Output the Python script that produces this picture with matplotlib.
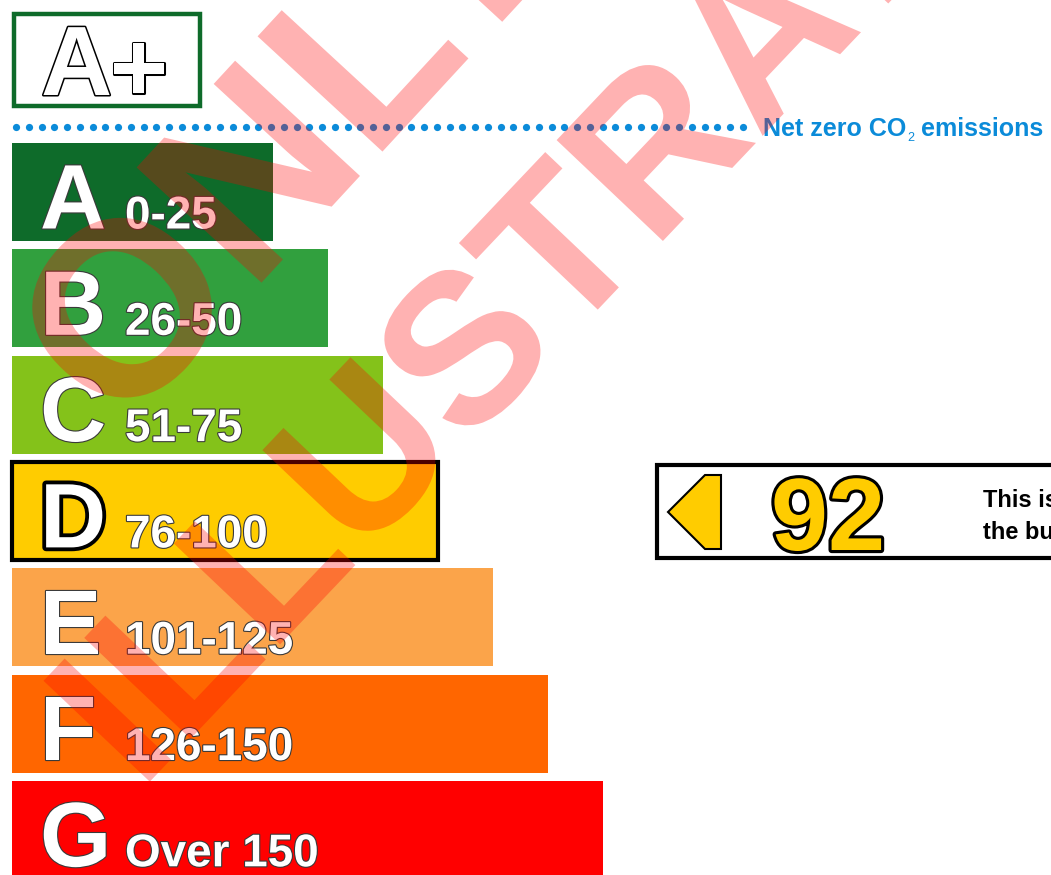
import numpy as np
import matplotlib
matplotlib.use("Agg")
import matplotlib.pyplot as plt
import matplotlib.patheffects as pe
from matplotlib.patches import Rectangle, Polygon, PathPatch
from matplotlib.textpath import TextPath
from matplotlib.font_manager import FontProperties
from matplotlib.transforms import Affine2D

FONT = "Liberation Sans"

#%% data
bands = ["A", "B", "C", "D", "E", "F", "G"]
band_ranges = ["0-25", "26-50", "51-75", "76-100", "101-125", "126-150", "Over 150"]
band_length = [261, 316, 371, 426, 481, 536, 591]
band_colors = ["#0e6b2a", "#31a03e", "#84c21a", "#ffcc00", "#fba44a", "#ff6600", "#ff0000"]
current_value = 92
current_band = "D"
top_label = ["A", "+"]
net_zero_parts = ["Net zero CO", "2", " emissions"]
info_lines = ["This is the net energy use of", "the building"]
watermark_lines = ["ONLY", "ILLUSTRATION"]

#%% figure in pixel coords
W, H = 1051, 875
fig = plt.figure(figsize=(W / 100, H / 100), dpi=100)
ax = fig.add_axes([0, 0, 1, 1])
ax.set_xlim(0, W)
ax.set_ylim(H, 0)
ax.axis("off")

thin = [pe.Stroke(linewidth=1.6, foreground="#3a3a3a"), pe.Normal()]
outl = [pe.Stroke(linewidth=2.2, foreground="black"), pe.Normal()]

# A+ box
ax.add_patch(Rectangle((14, 14), 186, 92, fc="white", ec="#0e6b2a", lw=3.2, zorder=2))
ax.text(41, 95, top_label[0], fontsize=71, family=FONT, weight="bold", color="white",
        va="baseline", ha="left", zorder=3, path_effects=outl)
ax.text(110, 101, top_label[1], fontsize=71, family=FONT, weight="bold", color="white",
        va="baseline", ha="left", zorder=3, path_effects=outl)

# dotted net zero line
blue = "#0b8bd9"
dots_x = np.arange(16, 746, 12.75)
ax.plot(dots_x, np.full_like(dots_x, 127), "o", ms=5.2, color=blue, mec="none", zorder=2)

t = ax.text(763, 136, net_zero_parts[0], fontsize=18, family=FONT, weight="bold",
            color=blue, va="baseline", zorder=3)
fig.canvas.draw()
inv = ax.transData.inverted()
x_end = inv.transform((t.get_window_extent().x1, 0))[0]
t2 = ax.text(x_end + 1, 141, net_zero_parts[1], fontsize=9, family=FONT,
             color=blue, va="baseline", zorder=3)
fig.canvas.draw()
x_end = inv.transform((t2.get_window_extent().x1, 0))[0]
ax.text(x_end, 136, net_zero_parts[2], fontsize=18, family=FONT, weight="bold",
        color=blue, va="baseline", zorder=3)

# bands
top0, step, bh = 143, 106.3, 98
ys = top0 + np.arange(len(bands)) * step + bh / 2
bars = ax.barh(ys, band_length, height=bh, left=12, color=band_colors, zorder=2)
for i, b in enumerate(bands):
    base = ys[i] - bh / 2 + 85.5
    if b == current_band:
        bars[i].set_edgecolor("black")
        bars[i].set_linewidth(3)
        fx = [pe.Stroke(linewidth=5.5, foreground="black"), pe.Normal()]
    else:
        fx = thin
    ax.text(40, base, b, fontsize=66, family=FONT, weight="bold", color="white",
            va="baseline", zorder=4, path_effects=fx)
    ax.text(125, base, band_ranges[i], fontsize=33, family=FONT, weight="bold",
            color="white", va="baseline", zorder=4, path_effects=thin)

# current rating box
d = bands.index(current_band)
ax.add_patch(Rectangle((657, 465), 430, 93, fc="white", ec="black", lw=3, zorder=2))
ax.add_patch(Polygon([(668, 512), (705, 475), (721, 475), (721, 549), (705, 549)],
                     closed=True, fc=band_colors[d], ec="black", lw=1.5, zorder=3))
ax.text(828, 550, str(current_value), fontsize=74, family=FONT, weight="bold",
        color=band_colors[d], ha="center", va="baseline", zorder=3,
        path_effects=[pe.Stroke(linewidth=4.5, foreground="black"), pe.Normal()])
for j, line in enumerate(info_lines):
    ax.text(983, 507 + j * 32, line, fontsize=17, family=FONT, weight="bold",
            color="black", va="baseline", zorder=3)

# watermark (rotated text outline, drawn on top)
fp = FontProperties(family=FONT, weight="bold")


def watermark(s, x0, y0, size, ang):
    tp = TextPath((0, 0), s, size=1, prop=fp)
    a = np.deg2rad(ang)
    m = Affine2D.from_values(size * np.cos(a), -size * np.sin(a),
                             -size * np.sin(a), -size * np.cos(a), x0, y0)
    ax.add_patch(PathPatch(tp, transform=m + ax.transData, fc=(1, 0, 0, 0.3),
                           ec="none", zorder=10))


watermark(watermark_lines[0], 120, 436, 247, 47.3)
watermark(watermark_lines[1], 140, 792, 213, 46.5)

fig.savefig("out.png", dpi=100)
